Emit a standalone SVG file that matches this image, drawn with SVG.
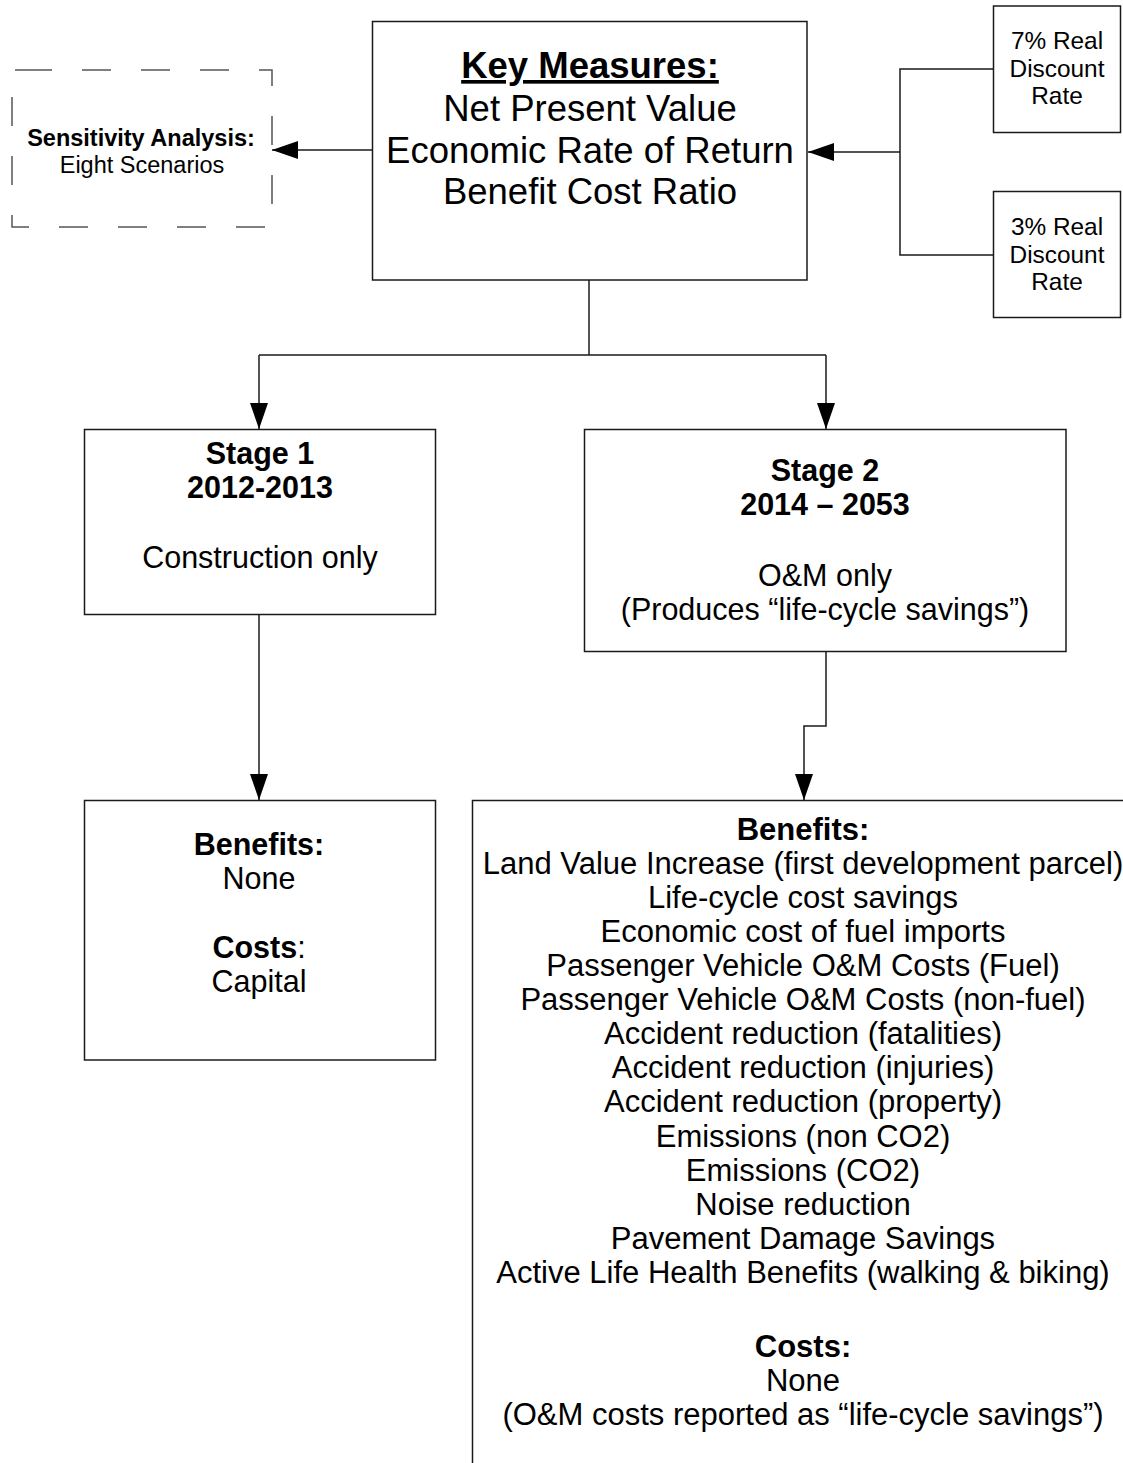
<svg xmlns="http://www.w3.org/2000/svg" width="1123" height="1463" viewBox="0 0 1123 1463">
<style>
  .box { fill: #ffffff; stroke: #1a1a1a; stroke-width: 1.5; }
  .dash { fill: none; stroke: #555555; stroke-width: 1.5; stroke-dasharray: 29 30; }
  .conn { fill: none; stroke: #1a1a1a; stroke-width: 1.5; }
  text { font-family: "Liberation Sans", Arial, sans-serif; fill: #000000; text-anchor: middle; }
  .b { font-weight: bold; }
  .km { font-size: 36.5px; }
  .st { font-size: 30.5px; }
  .bl { font-size: 31px; }
  .sa { font-size: 23.5px; }
  .dr { font-size: 24.4px; }
</style>
<defs>
  <marker id="arrow" markerUnits="userSpaceOnUse" markerWidth="26" markerHeight="18" refX="26" refY="9" orient="auto" viewBox="0 0 26 18">
    <path d="M0,0 L26,9 L0,18 z" fill="#000000"/>
  </marker>
</defs>

<g id="connectors">
  <path class="conn" d="M589,280 V355"/>
  <path class="conn" d="M259,355 H826"/>
  <path class="conn" d="M259,355 V429" marker-end="url(#arrow)"/>
  <path class="conn" d="M826,355 V429" marker-end="url(#arrow)"/>
  <path class="conn" d="M372,150 H272" marker-end="url(#arrow)"/>
  <path class="conn" d="M993,69 H900 V255 H993"/>
  <path class="conn" d="M900,152 H808" marker-end="url(#arrow)"/>
  <path class="conn" d="M259,614 V800" marker-end="url(#arrow)"/>
  <path class="conn" d="M826,651 V726 H804 V800" marker-end="url(#arrow)"/>
</g>

<g id="key-measures">
  <rect class="box" x="372.5" y="21.5" width="434.5" height="258.5"/>
  <text class="km b" x="590" y="78" text-decoration="underline">Key Measures:</text>
  <text class="km" x="590" y="120.5">Net Present Value</text>
  <text class="km" x="590" y="163">Economic Rate of Return</text>
  <text class="km" x="590" y="204">Benefit Cost Ratio</text>
</g>

<g id="sensitivity-analysis">
  <path class="dash" d="M23,70 H272 V227 H12 V70 H23"/>
  <text class="sa b" x="141" y="146">Sensitivity Analysis:</text>
  <text class="sa" x="142" y="173">Eight Scenarios</text>
</g>

<g id="rate-7">
  <rect class="box" x="993.5" y="6" width="127" height="126.5"/>
  <text class="dr" x="1057" y="49">7% Real</text>
  <text class="dr" x="1057" y="77">Discount</text>
  <text class="dr" x="1057" y="104">Rate</text>
</g>

<g id="rate-3">
  <rect class="box" x="993.5" y="191.5" width="127" height="126"/>
  <text class="dr" x="1057" y="235">3% Real</text>
  <text class="dr" x="1057" y="263">Discount</text>
  <text class="dr" x="1057" y="290">Rate</text>
</g>

<g id="stage-1">
  <rect class="box" x="84.5" y="429.5" width="351" height="185"/>
  <text class="st b" x="260" y="464">Stage 1</text>
  <text class="st b" x="260" y="498">2012-2013</text>
  <text class="st" x="260" y="568">Construction only</text>
</g>

<g id="stage-2">
  <rect class="box" x="584.5" y="429.5" width="481.5" height="222"/>
  <text class="st b" x="825" y="481">Stage 2</text>
  <text class="st b" x="825" y="515">2014 – 2053</text>
  <text class="st" x="825" y="586">O&amp;M only</text>
  <text class="st" x="825" y="620">(Produces “life-cycle savings”)</text>
</g>

<g id="stage-1-outcomes">
  <rect class="box" x="84.5" y="800.5" width="351" height="259.5"/>
  <text class="st b" x="259" y="855">Benefits:</text>
  <text class="st" x="259" y="889">None</text>
  <text class="st" x="259" y="958"><tspan class="b">Costs</tspan>:</text>
  <text class="st" x="259" y="992">Capital</text>
</g>

<g id="stage-2-outcomes">
  <rect class="box" x="472.5" y="800.5" width="680" height="700"/>
  <text class="bl b" x="803" y="840">Benefits:</text>
  <text class="bl" x="803" y="874">Land Value Increase (first development parcel)</text>
  <text class="bl" x="803" y="908">Life-cycle cost savings</text>
  <text class="bl" x="803" y="942">Economic cost of fuel imports</text>
  <text class="bl" x="803" y="976">Passenger Vehicle O&amp;M Costs (Fuel)</text>
  <text class="bl" x="803" y="1010">Passenger Vehicle O&amp;M Costs (non-fuel)</text>
  <text class="bl" x="803" y="1044">Accident reduction (fatalities)</text>
  <text class="bl" x="803" y="1078">Accident reduction (injuries)</text>
  <text class="bl" x="803" y="1112">Accident reduction (property)</text>
  <text class="bl" x="803" y="1147">Emissions (non CO2)</text>
  <text class="bl" x="803" y="1181">Emissions (CO2)</text>
  <text class="bl" x="803" y="1215">Noise reduction</text>
  <text class="bl" x="803" y="1249">Pavement Damage Savings</text>
  <text class="bl" x="803" y="1283">Active Life Health Benefits (walking &amp; biking)</text>
  <text class="bl b" x="803" y="1357">Costs:</text>
  <text class="bl" x="803" y="1391">None</text>
  <text class="bl" x="803" y="1425">(O&amp;M costs reported as “life-cycle savings”)</text>
</g>
</svg>
